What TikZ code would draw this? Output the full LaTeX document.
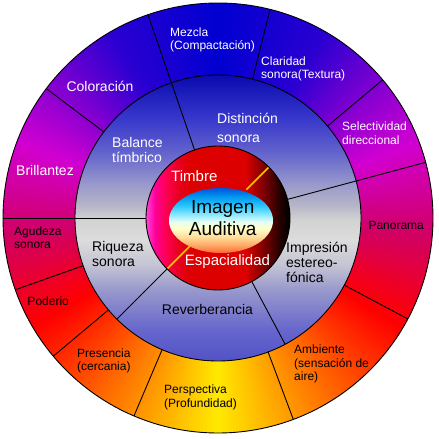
\documentclass[tikz,border=0pt]{standalone}
\usepackage{fontspec}
\setmainfont{Liberation Sans}

% colours of the rings
\definecolor{gold}{HTML}{FFC400}
\definecolor{ringA}{HTML}{5252C8}
\definecolor{ringB}{HTML}{6666CC}
\definecolor{ringC}{HTML}{9999CC}
\definecolor{ringD}{HTML}{C4C4D4}
\definecolor{ringE}{HTML}{DCDCDC}
\definecolor{ringF}{HTML}{D2D2D2}
\definecolor{ringG}{HTML}{B4B4C8}
\definecolor{ringH}{HTML}{3838CC}
\definecolor{ringI}{HTML}{0A0AB0}
\definecolor{coreA}{HTML}{FF44DD}
\definecolor{coreB}{HTML}{FF0099}
\definecolor{coreC}{HTML}{FF0055}
\definecolor{coreD}{HTML}{E80022}
\definecolor{coreE}{HTML}{DD0000}
\definecolor{coreF}{HTML}{AA0000}
\definecolor{coreG}{HTML}{660000}
\definecolor{coreH}{HTML}{220000}
\definecolor{eyeA}{HTML}{FF6633}
\definecolor{eyeB}{HTML}{FFAA66}
\definecolor{eyeC}{HTML}{FFDD99}
\definecolor{eyeD}{HTML}{FFFFCC}
\definecolor{eyeE}{HTML}{E8FFF0}
\definecolor{eyeF}{HTML}{AAF0FF}
\definecolor{eyeG}{HTML}{33CCFF}
\definecolor{eyeH}{HTML}{0099EE}
\definecolor{eyeI}{HTML}{0055DD}

\pgfdeclareverticalshading{ringshade}{100bp}{color(0bp)=(ringA); color(25bp)=(ringA);
  color(30.4bp)=(ringB); color(37.5bp)=(ringC); color(41.8bp)=(ringD); color(46.2bp)=(ringE);
  color(49.7bp)=(ringF); color(52.4bp)=(ringG); color(55.9bp)=(ringC); color(61.1bp)=(ringB);
  color(67.3bp)=(ringH); color(75bp)=(ringI); color(100bp)=(ringI)}
\pgfdeclarehorizontalshading{coreshade}{100bp}{color(0bp)=(coreA); color(25bp)=(coreA);
  color(28.1bp)=(coreB); color(31.6bp)=(coreC); color(36.1bp)=(coreD); color(40.3bp)=(coreE);
  color(59.4bp)=(coreE); color(62.8bp)=(coreF); color(67.4bp)=(coreG); color(71.5bp)=(coreH);
  color(75bp)=(black); color(100bp)=(black)}
\pgfdeclareverticalshading{eyeshade}{100bp}{color(0bp)=(eyeA); color(25bp)=(eyeA);
  color(31.2bp)=(eyeB); color(37.3bp)=(eyeC); color(44.2bp)=(eyeD); color(48.8bp)=(eyeE);
  color(52.7bp)=(eyeF); color(60.4bp)=(eyeG); color(68.1bp)=(eyeH); color(75bp)=(eyeI);
  color(100bp)=(eyeI)}

\begin{document}
\begin{tikzpicture}[x=1pt,y=1pt,
    tag/.style={font=\fontsize{12}{13.5}\selectfont, align=left, inner sep=0pt},
    ringtag/.style={font=\fontsize{14}{15}\selectfont, align=left, inner sep=0pt},
    coretag/.style={font=\fontsize{15}{17}\selectfont, inner sep=0pt, text=white},
    sep/.style={line width=0.9pt}]
    \useasboundingbox (-218,-221) rectangle (221,218);
    % outer ring, one thin wedge per degree
    \foreach \a in {0,...,359}{
        \pgfmathsetmacro\t{min(mod(\a+270.5,360),360-mod(\a+270.5,360))}
        \pgfmathsetmacro\f{\t<30 ? 0.4*\t : (\t<110 ? 12+1.225*(\t-30) : 110+0.93*(\t-110))}
        \pgfmathsetmacro\h{mod(240+\f,360)}
        \pgfmathsetmacro\b{0.82+0.18*min(1,max(0,(\t-95)/25))}
        \definecolor{wedge}{Hsb}{\h,1,\b}
        \fill[wedge] (0,0) -- (\a:215) arc[start angle=\a, delta angle=1.5, radius=215] -- cycle;
    }
    % middle ring, core and image
    \shade[shading=ringshade] (0,0) circle[radius=143];
    \shade[shading=coreshade] (0,0) circle[radius=72];
    \shade[shading=eyeshade] (3,-2.5) ellipse[x radius=52, y radius=32.5];
    % separators
    \foreach \a in {15,109,180} \draw[sep] (\a:72) -- (\a:215);
    \foreach \a in {40,76,143,199.5,220,247,290.5,332} \draw[sep] (\a:143) -- (\a:215);
    \foreach \a in {225,298} \draw[sep] (\a:72) -- (\a:143);
    \foreach \a in {45,225} \draw[line width=1.5pt, gold] (\a:40) -- (\a:72);
    \draw[sep] (0,0) circle[radius=215] (0,0) circle[radius=143] (0,0) circle[radius=72];

    % outer ring
    \node[tag, anchor=west, text=white] (mezcla) at (-48,178.3) {Mezcla\\(Compactación)};
    \node[tag, anchor=west, text=white] (claridad) at (43,149.2) {Claridad\\sonora(Textura)};
    \node[tag, anchor=west, text=white] (selectividad) at (124,84.7) {Selectividad\\direccional};
    \node[tag, anchor=west] (panorama) at (150.3,-7.7) {Panorama};
    \node[tag, anchor=west] (ambiente) at (76,-146) {Ambiente\\(sensación de\\aire)};
    \node[tag, anchor=west] (perspectiva) at (-54,-179.2) {Perspectiva\\(Profundidad)};
    \node[tag, anchor=west] (presencia) at (-141,-143) {Presencia\\(cercania)};
    \node[tag, anchor=west] (poderio) at (-190.7,-83.5) {Poderio};
    \node[tag, anchor=west] (agudeza) at (-204,-19.8) {Agudeza\\sonora};
    \node[ringtag, text=white] (brillantez) at (-173,48) {Brillantez};
    \node[ringtag, text=white] (coloracion) at (-118,131.2) {Coloración};
    % middle ring
    \node[ringtag, anchor=west, text=white, font=\fontsize{14}{19}\selectfont] (distincion) at (-1,90) {Distinción\\sonora};
    \node[ringtag, anchor=west, text=white] (balance) at (-106,68) {Balance\\tímbrico};
    \node[ringtag, anchor=west] (riqueza) at (-126,-36.3) {Riqueza\\sonora};
    \node[ringtag] (reverberancia) at (-10.5,-91) {Reverberancia};
    \node[ringtag, anchor=west] (impresion) at (68,-44.3) {Impresión\\estereo-\\fónica};
    % core
    \node[coretag] (timbre) at (-23.7,42.2) {Timbre};
    \node[coretag] (espacialidad) at (9.5,-43.7) {Espacialidad};
    \node[font=\fontsize{19}{21.5}\selectfont, align=center, inner sep=0pt] (imagen) at (4.7,-0.3) {Imagen\\Auditiva};
\end{tikzpicture}
\end{document}
